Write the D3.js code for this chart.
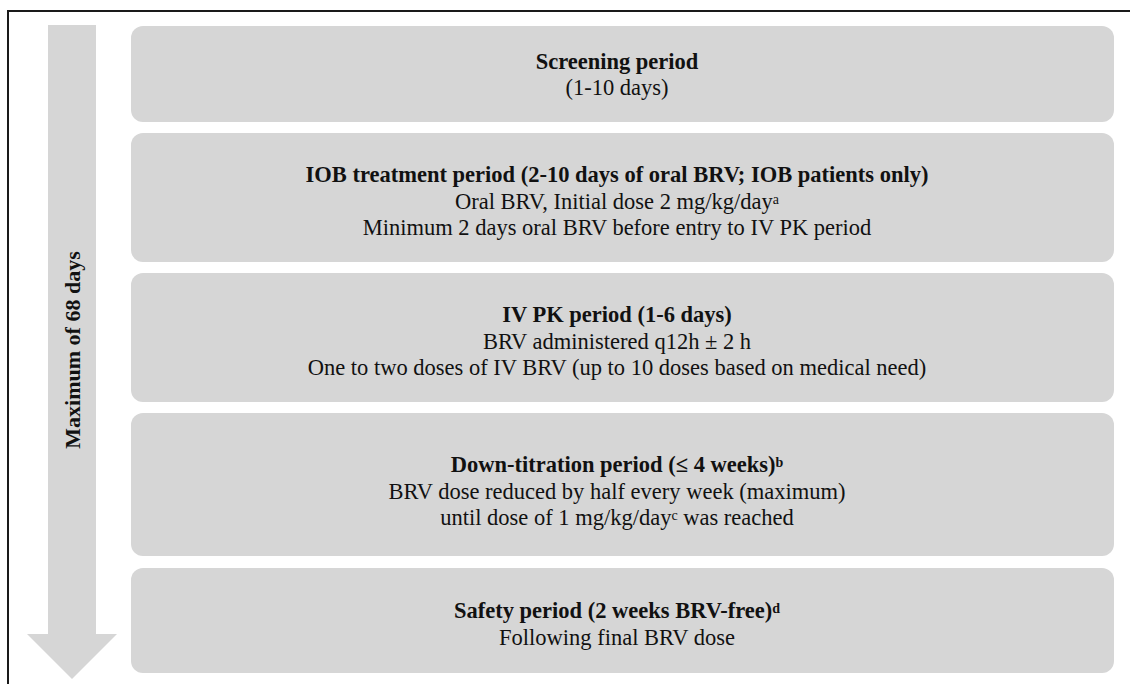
<!DOCTYPE html>
<html>
<head>
<meta charset="utf-8">
<script src="https://cdn.jsdelivr.net/npm/d3@7"></script>
<style>
  body { margin: 0; background: #fff; }
  svg { display: block; }
  text { font-family: "Liberation Serif", "Times New Roman", serif; fill: #111; }
</style>
</head>
<body>
<div class="chart"></div>
<script>
"use strict";

// study periods (top to bottom)
var titles = [
  "Screening period",
  "IOB treatment period (2-10 days of oral BRV; IOB patients only)",
  "IV PK period (1-6 days)",
  "Down-titration period (\u2264 4 weeks)",
  "Safety period (2 weeks BRV-free)"
];
var titleNotes = ["", "", "", "b", "d"];
var details = [
  [["(1-10 days)", ""]],
  [["Oral BRV, Initial dose 2 mg/kg/day", "a"],
   ["Minimum 2 days oral BRV before entry to IV PK period", ""]],
  [["BRV administered q12h \u00b1 2 h", ""],
   ["One to two doses of IV BRV (up to 10 doses based on medical need)", ""]],
  [["BRV dose reduced by half every week (maximum)", ""],
   ["until dose of 1 mg/kg/day", "c", " was reached"]],
  [["Following final BRV dose", ""]]
];
var arrowLabel = "Maximum of 68 days";

// layout
var width = 1130,
    height = 684;
var boxX0 = 131, boxX1 = 1114;
var boxTop = [26, 133, 273, 413, 568],
    boxBottom = [122, 262, 402, 556, 673];
var lineGap = 26.5;

var svg = d3.select(".chart")
  .append("svg")
    .attr("width", width)
    .attr("height", height);

// frame (top + left only)
svg.append("path")
  .attr("d", "M8," + height + "V11H" + width)
  .attr("fill", "none")
  .attr("stroke", "#1a1a1a")
  .attr("stroke-width", 2);

// big down arrow
var ax = 72;
svg.append("path")
  .attr("d", d3.line()([
      [48, 25], [96, 25], [96, 634], [117, 634],
      [ax, 679], [27, 634], [48, 634]
    ]) + "Z")
  .attr("fill", "#d6d6d6");

svg.append("text")
  .attr("transform", "translate(80,350) rotate(-90)")
  .attr("text-anchor", "middle")
  .style("font-weight", "bold")
  .style("font-size", "22px")
  .text(arrowLabel);

// period boxes
var rows = titles.map(function(t, i) {
  return { title: t, note: titleNotes[i], lines: details[i], y0: boxTop[i], y1: boxBottom[i] };
});

var g = svg.append("g")
  .selectAll("g")
  .data(rows)
  .enter().append("g");

g.append("rect")
  .attr("x", boxX0)
  .attr("y", function(d){ return d.y0; })
  .attr("width", boxX1 - boxX0)
  .attr("height", function(d){ return d.y1 - d.y0; })
  .attr("rx", 12)
  .attr("fill", "#d6d6d6");

var cx = 617;

g.each(function(d, i) {
  var n = d.lines.length + 1;
  var first = (d.y0 + d.y1) / 2 - (n - 1) / 2 * lineGap + (i === 0 ? 8 : i === 3 ? 14 : 11);
  var sel = d3.select(this);

  var t = sel.append("text")
    .attr("x", cx)
    .attr("y", first)
    .attr("text-anchor", "middle")
    .style("font-size", "22.5px")
    .style("font-weight", "bold");
  t.append("tspan").text(d.title);
  if (d.note) {
    t.append("tspan").attr("dy", -5).style("font-size", "14px").text(d.note);
  }

  d.lines.forEach(function(l, k) {
    var tt = sel.append("text")
      .attr("x", cx)
      .attr("y", first + (k + 1) * lineGap)
      .attr("text-anchor", "middle")
      .style("font-size", "22.5px");
    tt.append("tspan").text(l[0]);
    if (l[1]) {
      tt.append("tspan").attr("dy", -5).style("font-size", "14px").text(l[1]);
      if (l[2]) tt.append("tspan").attr("dy", 5).text(l[2]);
    }
  });
});
</script>
</body>
</html>
